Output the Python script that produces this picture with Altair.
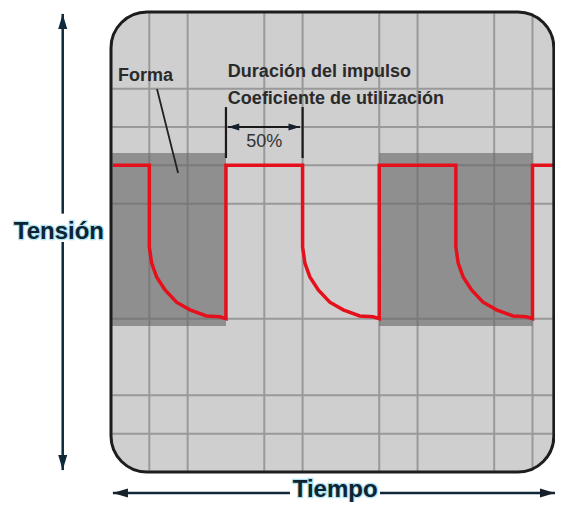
import altair as alt
import pandas as pd

# ---- data (grid units: x from panel left, y from panel bottom) ----
X_MAX = 11.587
Y_MAX = 12.0

grid_x = [1, 2, 4, 5, 7, 8, 10, 11]
grid_y = [10, 9, 8, 7, 4, 2, 1]

high_level = 8.0
fall_x = [1, 5, 9]
rise_x = [3, 7, 11]
# decay curve, relative to each falling edge
curve_dx = [0.0, 0.06, 0.19, 0.41, 0.71, 1.06, 1.49, 1.84, 2.0]
curve_y = [5.87, 5.45, 5.09, 4.75, 4.43, 4.23, 4.07, 4.05, 4.0]

box_x1 = [0.0, 7.0]
box_x2 = [3.0, 11.0]
box_y1 = [3.81, 3.81]
box_y2 = [8.32, 8.32]

TY = -0.548   # level of the time arrow
TT = -0.457   # level of the "Tiempo" label

# annotation geometry
line_x1 = [1.20, 3.0, 5.0, 3.05, -1.26, -1.26, 0.05, 7.02]
line_y1 = [9.99, 9.52, 9.52, 9.0, 0.05, 6.74, TY, TY]
line_x2 = [1.75, 3.0, 5.0, 4.93, -1.26, -1.26, 4.67, X_MAX]
line_y2 = [7.80, 8.19, 8.19, 9.0, 6.0, 11.95, TY, TY]
line_col = ["#222222", "#1a1a1a", "#1a1a1a", "#1a1a1a", "#10293a", "#10293a", "#10293a", "#10293a"]
line_w = [1.8, 2.2, 2.2, 2.2, 2.5, 2.5, 2.5, 2.5]

up_x, up_y = [-1.26], [11.95]
down_x, down_y = [-1.26], [0.05]
left_x, left_y, left_s = [0.05, 3.05], [TY, 9.0], [225, 130]
right_x, right_y, right_s = [X_MAX, 4.93], [TY, 9.0], [225, 130]

ann_text = ["Forma", "Duración del impulso", "Coeficiente de utilización"]
ann_x = [0.18, 3.05, 3.05]
ann_y = [10.33, 10.43, 9.73]

pct_text = ["50%"]
pct_x = [4.0]
pct_y = [8.61]

axis_text = ["Tensión", "Tiempo"]
axis_x = [-1.36, 5.85]
axis_y = [6.26, TT]

# ---- tables ----
wave = [(0.05, high_level)]
for f, r in zip(fall_x, rise_x):
    wave.append((f, high_level))
    for dx, yy in zip(curve_dx, curve_y):
        wave.append((f + dx, yy))
    wave.append((r, high_level))
wave.append((X_MAX, high_level))
wave_df = pd.DataFrame({"x": [p[0] for p in wave], "y": [p[1] for p in wave],
                        "o": list(range(len(wave)))})

panel_df = pd.DataFrame({"x": [0.0], "x2": [X_MAX - 0.03], "y": [0.0], "y2": [Y_MAX]})
gx_df = pd.DataFrame({"x": grid_x, "y": [0.03] * len(grid_x), "y2": [Y_MAX - 0.03] * len(grid_x)})
gy_df = pd.DataFrame({"y": grid_y, "x": [0.03] * len(grid_y), "x2": [X_MAX - 0.06] * len(grid_y)})
box_df = pd.DataFrame({"x": box_x1, "x2": box_x2, "y": box_y1, "y2": box_y2})
lines_df = pd.DataFrame({"x": line_x1, "y": line_y1, "x2": line_x2, "y2": line_y2,
                         "c": line_col, "w": line_w})
ann_df = pd.DataFrame({"t": ann_text, "x": ann_x, "y": ann_y})
pct_df = pd.DataFrame({"t": pct_text, "x": pct_x, "y": pct_y})
axis_df = pd.DataFrame({"t": axis_text, "x": axis_x, "y": axis_y})

xs = alt.Scale(domain=[0, X_MAX], nice=False, zero=False)
ys = alt.Scale(domain=[0, Y_MAX], nice=False, zero=False)


def X(f):
    return alt.X(f, type="quantitative", scale=xs, axis=None)


def Y(f):
    return alt.Y(f, type="quantitative", scale=ys, axis=None)


panel_fill = alt.Chart(panel_df).mark_rect(fill="#cfcfcf", cornerRadius=36).encode(
    x=X("x"), x2="x2", y=Y("y"), y2="y2")
grid_v = alt.Chart(gx_df).mark_rule(color="#999999", strokeWidth=2).encode(
    x=X("x"), y=Y("y"), y2="y2")
grid_h = alt.Chart(gy_df).mark_rule(color="#999999", strokeWidth=2).encode(
    y=Y("y"), x=X("x"), x2="x2")
boxes = alt.Chart(box_df).mark_rect(fill="#676767", opacity=0.62).encode(
    x=X("x"), x2="x2", y=Y("y"), y2="y2")
red = alt.Chart(wave_df).mark_line(color="#e5101c", strokeWidth=3.5, strokeJoin="miter").encode(
    x=X("x"), y=Y("y"), order="o:Q")
panel_border = alt.Chart(panel_df).mark_rect(
    fillOpacity=0, stroke="#1b1d1f", strokeWidth=3, cornerRadius=36).encode(
    x=X("x"), x2="x2", y=Y("y"), y2="y2")

lines = alt.Chart(lines_df).mark_rule(clip=False).encode(
    x=X("x"), y=Y("y"), x2="x2", y2="y2",
    color=alt.Color("c:N", scale=None),
    strokeWidth=alt.StrokeWidth("w:Q", scale=None))

up = alt.Chart(pd.DataFrame({"x": up_x, "y": up_y})).mark_point(
    shape="M0,0L0.6,2L-0.6,2Z", filled=True, size=225, color="#10293a", opacity=1, clip=False).encode(
    x=X("x"), y=Y("y"))
down = alt.Chart(pd.DataFrame({"x": down_x, "y": down_y})).mark_point(
    shape="M0,0L0.6,-2L-0.6,-2Z", filled=True, size=225, color="#10293a", opacity=1, clip=False).encode(
    x=X("x"), y=Y("y"))
left = alt.Chart(pd.DataFrame({"x": left_x, "y": left_y, "s": left_s})).mark_point(
    shape="M0,0L2,-0.6L2,0.6Z", filled=True, color="#15202a", opacity=1, clip=False).encode(
    x=X("x"), y=Y("y"), size=alt.Size("s:Q", scale=None))
right = alt.Chart(pd.DataFrame({"x": right_x, "y": right_y, "s": right_s})).mark_point(
    shape="M0,0L-2,-0.6L-2,0.6Z", filled=True, color="#15202a", opacity=1, clip=False).encode(
    x=X("x"), y=Y("y"), size=alt.Size("s:Q", scale=None))

ann = alt.Chart(ann_df).mark_text(
    font="Liberation Sans", fontSize=18, fontWeight="bold", color="#2a2a2a",
    align="left", baseline="middle", clip=False).encode(x=X("x"), y=Y("y"), text="t:N")
pct = alt.Chart(pct_df).mark_text(
    font="Liberation Sans", fontSize=18, color="#333333",
    align="center", baseline="middle", clip=False).encode(x=X("x"), y=Y("y"), text="t:N")
axis_glow = alt.Chart(axis_df).mark_text(
    font="Liberation Sans", fontSize=24, fontWeight="bold", color="#8fd8ec",
    stroke="#8fd8ec", strokeWidth=2.5, strokeOpacity=0.7,
    align="center", baseline="middle", clip=False).encode(x=X("x"), y=Y("y"), text="t:N")
axis_txt = alt.Chart(axis_df).mark_text(
    font="Liberation Sans", fontSize=24, fontWeight="bold", color="#0e2433",
    align="center", baseline="middle", clip=False).encode(x=X("x"), y=Y("y"), text="t:N")

chart = alt.layer(
    panel_fill, grid_v, grid_h, boxes, red, panel_border,
    lines, up, down, left, right, ann, pct, axis_glow, axis_txt
).properties(
    width=444, height=460,
    autosize=alt.AutoSizeParams(type="none"),
    padding={"left": 103, "top": 4, "right": 0, "bottom": 30},
    background="#ffffff",
).configure_view(stroke=None)

chart.save("out.html", embed_options={"renderer": "svg", "actions": False})
